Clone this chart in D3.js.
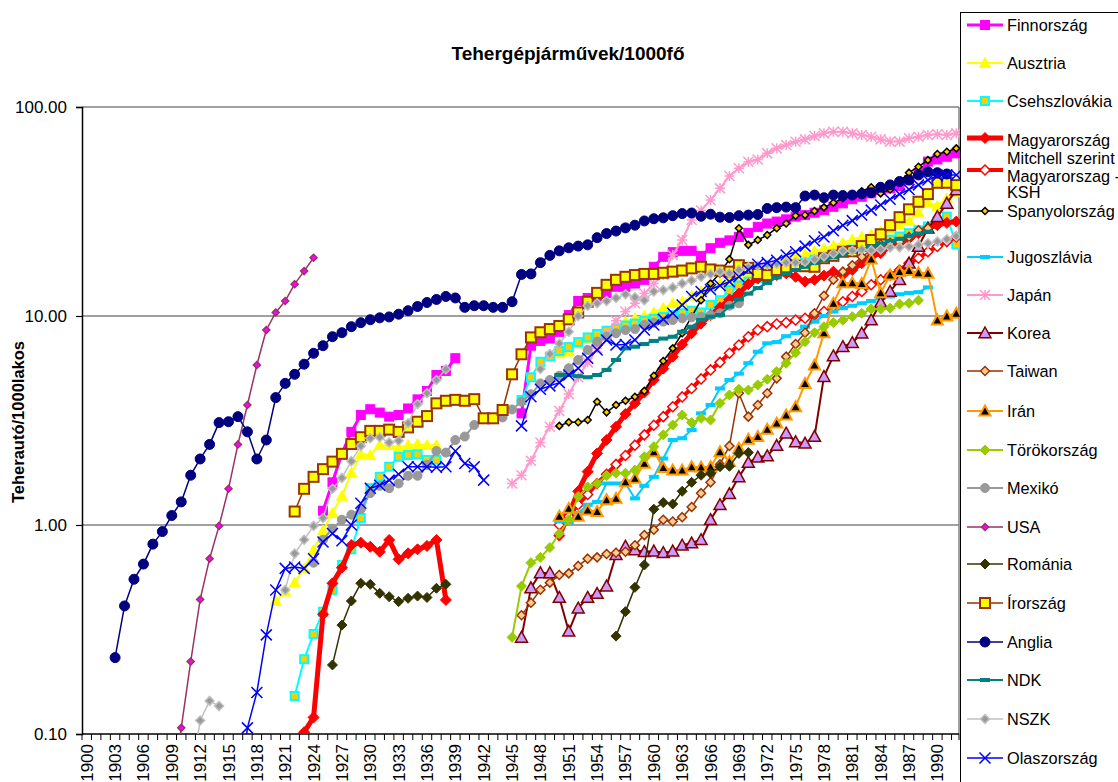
<!DOCTYPE html>
<html>
<head>
<meta charset="utf-8">
<script src="https://cdn.jsdelivr.net/npm/d3@7"></script>
<style>
  body { margin: 0; background: #fff; }
  svg { font-family: "Liberation Sans", Arial, sans-serif; }
  .tick text { font-size: 17px; fill: #000; }
</style>
</head>
<body>
<div class="chart"></div>
<script>
// categories
const years = d3.range(1900, 1993);
const yearLabels = d3.range(1900, 1991, 3);
const yTicks = [0.1, 1, 10, 100];

// series: first year + values (null = no data)
const finnorszag = { from: 1925, v: [1.17, 1.6, 2.2, 2.79, 3.36, 3.58, 3.45, 3.3, 3.36, 3.61, 3.99, 4.38, 5.22, 5.46, 6.28,
  null, null, null, null, null, null, 3.42, 7.21, 7.6, 7.8, 8.4, 10.1, 11.8, 12.2, 12.4, 12.9, 13.8, 13.8, 14.3, 14.9,
  17.2, 19.2, 20.2, 20.5, 20.5, 19.4, 21.1, 22.4, 23.0, 23.9, 25.0, 26.7, 27.7, 28.3, 29.0, 29.9, 30.4, 31.2, 32.1, 33.3,
  34.6, 36.2, 37.2, 38.6, 40.1, 40.8, 41.9, 44.7, 48.2, 54.8, 56.1, 57.8, 60.0] };
const ausztria = { from: 1920, v: [0.433, 0.48, 0.53, 0.62, 0.76, 0.94, 1.14, 1.38, 1.78, 2.18, 2.16, 2.41, 2.41, 2.35, 2.41, 2.44, 2.41, 2.41,
  null, null, null, null, null, null, null, null, null, null, 5.83, 6.44, 6.63, 6.75, 7.39, 7.82, 8.02, 8.5, 9.05, 9.4, 9.75,
  10.0, 10.4, 10.9, 11.5, 11.7, 12.5, 13.1, 13.8, 14.3, 14.9, 15.4, 15.9, 16.4, 17.1, 17.8, 18.5, 19.1, 19.8, 20.4, 21.0,
  21.7, 22.4, 23.2, 23.9, 24.5, 25.3, 26.1, 27.4, 28.6, 31.3, 35.0, 33.6, 36.5, 39.0] };
const csehszlovakia = { from: 1922, v: [0.152, 0.228, 0.301, 0.385, 0.489, 0.644, 0.765, 1.08, 1.5, 1.7, 1.9, 2.12, 2.16, 2.18, 2.05, 2.05,
  null, null, null, null, null, null, null, null, 3.96, 5.09, 6.04, 6.4, 6.8, 7.1, 7.5, 7.9, 8.2, 8.5, 8.7, 9.0, 9.2, 9.5,
  9.7, 9.9, 10.1, 10.3, 10.6, 10.4, 11.3, 11.9, 13.3, 14.0, 14.6, 15.2, 15.8, 16.3, 16.9, 17.4, 18.0, 18.6, 19.2, 19.7,
  20.3, 20.8, 21.4, 22.0, 22.5, 23.2, 24.0, 24.9, 25.7, 26.8, 28.3, 29.9, 22.0] };
const magyarMitchell = { from: 1922, v: [0.06, 0.102, 0.12, 0.374, 0.526, 0.625, 0.802, 0.823, 0.787, 0.745, 0.848, 0.685, 0.732, 0.765,
  0.794, 0.848, 0.438, null, null, null, null, null, null, null, null, null, null, null, 0.89, 1.12, 1.45, 1.8, 2.2, 2.55,
  2.95, 3.4, 3.82, 4.3, 4.94, 5.6, 6.39, 7.3, 8.27, 9.2, 10.1, 11.0, 12.0, 12.8, 14.2, 15.1, 15.4, 15.7, 16.0, 15.4, 14.6,
  14.9, 15.6, 16.3, 15.7, 16.6, 17.9, 19.2, 20.0, 21.5, 22.3, 23.5, 24.9, 26.3, 27.2, 27.9, 28.3] };
const magyarKSH = { from: 1950, v: [1.0, 1.1, 1.25, 1.4, 1.58, 1.75, 1.95, 2.15, 2.41, 2.7, 3.0, 3.3, 3.68, 4.1, 4.5, 5.0, 5.52, 6.0,
  6.63, 7.26, 7.96, 8.57, 8.89, 9.16, 9.3, 9.57, 9.75, 10.1, 10.5, 11.1, 11.7, 12.4, 13.1, 14.1, 14.9, 15.7, 16.6, 17.9,
  18.9, 20.3, 21.5, 22.7, 23.9] };
const spanyolorszag = { from: 1950, v: [2.98, 3.1, 3.1, 3.18, 3.89, 3.46, 3.75, 3.93, 4.11, 4.38, 5.18, 6.09, 7.0, 8.27, 9.93, 11.9,
  14.3, 16.0, 18.7, 26.3, 21.9, 23.1, 24.4, 26.3, 27.7, 30.2, 30.4, 31.8, 33.1, 34.8, 36.6, 38.0, 39.5, 41.3, 38.6, 40.3,
  44.0, 48.5, 51.8, 55.7, 59.6, 61.1, 63.4] };
const jugoszlavia = { from: 1950, v: [1.04, 1.03, 1.14, 1.25, 1.29, 1.58, 1.58, 1.58, 1.34, 1.54, 1.7, 2.08, 2.55, 2.6, 2.85, 3.42,
  3.75, 4.5, 4.94, 5.3, 5.94, 6.75, 7.4, 7.5, 8.0, 8.3, 8.9, 9.4, 10.0, 10.5, 10.9, 11.2, 11.5, 11.8, 12.2, 12.4, 12.7,
  12.9, 13.0, 13.7] };
const japan = { from: 1945, v: [1.58, 1.73, 2.03, 2.48, 2.95, 3.51, 4.23, 5.09, 6.0, 7.0, 8.2, 9.5, 10.5, 11.5, 12.8, 14.3, 15.7,
  19.6, 23.1, 28.8, 32.0, 35.9, 40.8, 46.8, 50.9, 54.7, 56.1, 60.0, 63.4, 65.8, 68.2, 70.0, 72.6, 74.8, 76.2, 76.2, 74.8,
  73.5, 72.1, 70.0, 68.3, 68.3, 70.8, 72.1, 73.5, 74.0, 73.5, 74.8] };
const korea = { from: 1946, v: [0.29, 0.5, 0.59, 0.59, 0.45, 0.31, 0.40, 0.45, 0.47, 0.51, 0.72, 0.79, 0.76, 0.745, 0.75, 0.737,
  0.75, 0.8, 0.82, 0.85, 1.06, 1.25, 1.41, 1.7, 1.99, 2.11, 2.14, 2.4, 2.75, 2.5, 2.46, 2.65, 5.13, 6.44, 7.13, 7.45, 8.27,
  9.57, 11.6, 13.1, 14.9, 17.9, 21.5, 26.3, 29.9, 34.6, 40.1] };
const taiwan = { from: 1946, v: [0.37, 0.425, 0.49, 0.53, 0.577, 0.587, 0.637, 0.69, 0.7, 0.726, 0.737, 0.745, 0.8, 0.895, 0.95,
  1.06, 1.04, 1.09, 1.22, 1.42, 1.6, 1.95, 2.39, 4.27, 3.3, 3.75, 4.27, 5.03, 6.39, 7.34, 8.32, 10.3, 12.5, 14.9, 16.3,
  17.5, 19.2, 20.6, 22.0, 22.4, 22.6, 23.9, 25.7, 26.3] };
const iran = { from: 1950, v: [1.1, 1.2, 1.1, 1.18, 1.16, 1.32, 1.34, 1.61, 1.67, 1.97, 2.24, 1.88, 1.83, 1.83, 1.9, 1.89, 1.9,
  2.24, 2.01, 2.33, 2.57, 2.65, 2.87, 3.07, 3.36, 3.68, 4.75, 5.83, 8.3, 11.5, 14.4, 14.4, 14.3, 18.7, 12.9, 15.7, 16.3,
  16.5, 16.1, 16.0, 9.55, 10.0, 10.3] };
const torokorszag = { from: 1945, v: [0.29, 0.51, 0.66, 0.70, 0.78, 0.91, 1.06, 1.37, 1.52, 1.58, 1.72, 1.77, 1.77, 1.83, 2.12,
  2.37, 2.7, 3.01, 3.36, 3.09, 3.24, 3.18, 3.82, 4.19, 4.46, 4.42, 4.68, 4.98, 5.42, 5.94, 6.67, 7.54, 8.32, 8.89, 9.29,
  9.55, 9.93, 10.3, 10.8, 10.8, 10.9, 11.4, 11.5, 11.9] };
const mexiko = { from: 1924, v: [0.66, 0.85, 0.96, 1.06, 1.12, 1.19, 1.42, 1.54, 1.5, 1.58, 1.72, 1.72, 1.94, 2.26, 2.22, 2.55,
  2.65, 3.01, 3.24, 3.24, 3.27, 3.57, 3.89, 4.22, 4.76, 4.94, 5.18, 5.62, 6.16, 6.88, 7.54, 7.96, 8.27, 8.57, 8.66, 9.05,
  9.29, 9.4, 9.57, 9.75, 9.85, 9.93, 10.1, 10.3, 11.2, 11.5] };
const usa = { from: 1909, v: [0.05, 0.107, 0.222, 0.44, 0.69, 0.99, 1.49, 2.43, 3.75, 5.83, 8.57, 10.4, 11.8, 14.2, 16.4, 19.0] };
const romania = { from: 1926, v: [0.214, 0.332, 0.433, 0.526, 0.52, 0.471, 0.454, 0.43, 0.446, 0.457, 0.45, 0.498, 0.52,
  null, null, null, null, null, null, null, null, null, null, null, null, null, null, null, null, null,
  0.294, 0.385, 0.503, 0.644, 1.19, 1.28, 1.26, 1.45, 1.6, 1.73, 1.77, 1.9, 1.91, 2.2, 2.22] };
const irorszag = { from: 1922, v: [1.16, 1.49, 1.7, 1.85, 2.01, 2.19, 2.44, 2.63, 2.82, 2.82, 2.86, 2.79, 2.93, 3.12, 3.32, 3.82,
  3.93, 3.97, 3.93, 4.0, 3.24, 3.24, 3.55, 5.26, 6.56, 7.9, 8.36, 8.66, 8.96, 9.64, 10.4, 11.7, 12.9, 14.1, 14.9, 15.4,
  15.7, 15.9, 15.9, 16.1, 16.3, 16.5, 16.9, 17.2, 16.7, 16.5, 16.3, 17.5, 17.0, 15.9, 15.7, 16.6, 16.8, 17.4, 17.3, 17.2,
  18.9, 19.4, 20.3, 20.4, 21.6, 23.1, 24.6, 27.2, 29.7, 32.4, 35.2, 38.3, 43.4, 43.4, 42.3] };
const anglia = { from: 1903, v: [0.232, 0.41, 0.55, 0.65, 0.81, 0.93, 1.11, 1.29, 1.73, 2.07, 2.43, 3.09, 3.12, 3.3, 2.79, 2.07,
  2.55, 4.07, 4.76, 5.26, 5.88, 6.63, 7.21, 7.96, 8.32, 8.89, 9.29, 9.6, 9.8, 9.9, 10.2, 10.6, 11.1, 11.6, 12.0, 12.4,
  12.2, 11.0, 11.2, 11.2, 11.0, 11.0, 11.7, 15.8, 15.9, 18.0, 19.5, 20.5, 21.2, 21.6, 21.9, 23.7, 24.8, 25.5, 26.4, 27.2,
  28.5, 29.2, 29.5, 30.2, 30.9, 31.1, 30.0, 30.7, 29.7, 29.6, 30.2, 30.4, 30.6, 32.7, 33.0, 33.2, 33.0, 37.5, 37.9, 36.8,
  37.9, 37.7, 37.9, 38.4, 38.9, 41.3, 42.4, 44.0, 44.7, 47.3, 49.0, 48.5, 47.8] };
const ndk = { from: 1950, v: [5.22, 5.22, 5.15, 5.09, 5.22, 5.52, 6.16, 7.0, 7.13, 7.34, 7.6, 7.8, 7.96, 8.41, 8.89, 9.57, 9.93,
  10.1, 11.1, 12.0, 12.8, 13.6, 14.4, 15.3, 16.0, 16.6, 17.2, 17.9, 18.5, 19.1, 19.7, 20.3, 20.9, 21.5, 22.1, 22.8, 23.4,
  24.1, 24.8, 25.3] };
const nszk = { from: 1911, v: [0.06, 0.116, 0.144, 0.136, null, null, null, null, null, null, 0.489, 0.73, 0.85, 0.99, 1.08,
  1.49, 1.68, 2.02, 2.39, 2.6, 2.63, 2.48, 2.53, 3.07, 3.79, 4.27, 4.94, 5.56, null, null, null, null, null, null, null,
  null, null, 5.58, 6.58, 7.39, 8.41, 10.0, 11.2, 11.5, 11.8, 12.2, 12.7, 12.3, 11.9, 13.1, 13.3, 13.7, 14.3, 14.8, 15.4,
  15.9, 16.3, 16.0, 16.6, 17.1, 17.4, 17.6, 17.8, 18.0, 18.0, 18.2, 18.7, 19.3, 19.9, 20.5, 20.5, 20.8, 20.6, 20.8, 21.3,
  21.3, 21.5, 21.9, 22.3, 22.7, 23.3, 24.1] };
const olaszorszag = { from: 1916, v: [0.04, 0.107, 0.158, 0.298, 0.489, 0.62, 0.63, 0.62, 0.69, 0.83, 0.91, 0.84, 1.0, 1.27, 1.5,
  1.55, 1.64, 1.75, 1.9, 1.9, 1.9, 1.89, 1.9, 2.26, 1.97, 1.9, 1.64, null, null, null, 2.98, 4.11, 4.46, 4.63, 4.8, 5.22,
  5.62, 6.28, 6.88, 7.67, 7.26, 7.3, 7.67, 8.57, 9.05, 9.64, 10.3, 11.3, 12.4, 13.1, 13.4, 14.0, 14.6, 15.4, 16.6, 17.7,
  18.0, 18.5, 19.6, 20.3, 21.6, 22.9, 23.9, 25.6, 27.2, 28.6, 30.4, 32.1, 34.0, 36.2, 38.3, 40.3, 42.4, 44.7, 46.8, 47.3, 47.3] };

// styles, in legend / drawing order (ly = legend line y, ty = text baselines)
const series = [
  { name: ["Finnország"], d: finnorszag, line: "#FF00FF", lw: 3, mk: "square", size: 9, fill: "#FF00FF", stroke: "#FF00FF", sw: 1, ly: 25 },
  { name: ["Ausztria"], d: ausztria, line: "#FFFF00", lw: 2, mk: "triangle", size: 11, fill: "#FFFF00", stroke: "#FFFF00", sw: 1, ly: 63 },
  { name: ["Csehszlovákia"], d: csehszlovakia, line: "#00FFFF", lw: 2, mk: "square", size: 8, fill: "#FFCC00", stroke: "#00FFFF", sw: 2, ly: 101 },
  { name: ["Magyarország", "Mitchell szerint"], d: magyarMitchell, line: "#FF0000", lw: 5, mk: "diamond", size: 11, fill: "#FF0000", stroke: "#FF0000", sw: 1, ly: 138, ty: [145.5, 163.5] },
  { name: ["Magyarorszag -", "KSH"], d: magyarKSH, line: "#FF0000", lw: 4, mk: "diamond", size: 10, fill: "#FFFFFF", stroke: "#FF0000", sw: 1.5, ly: 170, ty: [181.5, 198] },
  { name: ["Spanyolország"], d: spanyolorszag, line: "#000000", lw: 1.5, mk: "diamond", size: 7, fill: "#FFCC00", stroke: "#000000", sw: 1.5, ly: 211 },
  { name: ["Jugoszlávia"], d: jugoszlavia, line: "#00CCFF", lw: 2, mk: "dash", size: 9, fill: "#00CCFF", stroke: "#00CCFF", sw: 1, ly: 257 },
  { name: ["Japán"], d: japan, line: "#FF99CC", lw: 2, mk: "star", size: 10, fill: "none", stroke: "#FF99CC", sw: 1.5, ly: 295 },
  { name: ["Korea"], d: korea, line: "#800000", lw: 2, mk: "triangle", size: 12, fill: "#CC99FF", stroke: "#800000", sw: 1.5, ly: 333 },
  { name: ["Taiwan"], d: taiwan, line: "#993300", lw: 1.5, mk: "diamond", size: 9, fill: "#FFCC99", stroke: "#993300", sw: 1.5, ly: 371 },
  { name: ["Irán"], d: iran, line: "#FF9900", lw: 2, mk: "triangle", size: 11, fill: "#000000", stroke: "#FF9900", sw: 2, ly: 411 },
  { name: ["Törökország"], d: torokorszag, line: "#99CC00", lw: 2, mk: "diamond", size: 10, fill: "#99CC00", stroke: "#99CC00", sw: 1, ly: 450 },
  { name: ["Mexikó"], d: mexiko, line: "#999999", lw: 2, mk: "circle", size: 9, fill: "#999999", stroke: "#999999", sw: 1, ly: 488 },
  { name: ["USA"], d: usa, line: "#993366", lw: 1.5, mk: "diamond", size: 7, fill: "#FF00FF", stroke: "#993366", sw: 1.5, ly: 527 },
  { name: ["Románia"], d: romania, line: "#333300", lw: 1.5, mk: "diamond", size: 10, fill: "#333300", stroke: "#333300", sw: 1, ly: 564 },
  { name: ["Írország"], d: irorszag, line: "#993300", lw: 1.5, mk: "square", size: 10, fill: "#FFFF00", stroke: "#993300", sw: 2, ly: 603 },
  { name: ["Anglia"], d: anglia, line: "#000080", lw: 1.5, mk: "circle", size: 10, fill: "#000080", stroke: "#000080", sw: 1, ly: 642 },
  { name: ["NDK"], d: ndk, line: "#008080", lw: 2, mk: "dash", size: 9, fill: "#008080", stroke: "#008080", sw: 1, ly: 680 },
  { name: ["NSZK"], d: nszk, line: "#C0C0C0", lw: 1.5, mk: "diamond", size: 9, fill: "#999999", stroke: "#C0C0C0", sw: 1.5, ly: 719 },
  { name: ["Olaszország"], d: olaszorszag, line: "#0000FF", lw: 1.5, mk: "x", size: 11, fill: "none", stroke: "#0000FF", sw: 1.5, ly: 758 }
];

const W = 1118, H = 782;
const plotLeft = 82, plotRight = 961, plotTop = 107, plotBottom = 734;

let svg = d3.select('div.chart').append('svg').attr('width', W).attr('height', H);

//Scale
let x = d3.scaleBand().domain(years).range([plotLeft, plotRight]);
let cx = yr => x(yr) + x.bandwidth() / 2;
let y = d3.scaleLog().domain([0.1, 100]).range([plotBottom, plotTop]);

//gridlines
svg.append('g')
  .selectAll('line')
  .data([1, 10, 100])
  .enter()
  .append('line')
  .attr('x1', plotLeft).attr('x2', plotRight - 2)
  .attr('y1', d => y(d)).attr('y2', d => y(d))
  .attr('stroke', '#808080').attr('stroke-width', 1.5);

// right plot border
svg.append('line')
  .attr('x1', plotRight - 2).attr('x2', plotRight - 2).attr('y1', plotTop).attr('y2', plotBottom)
  .attr('stroke', '#808080').attr('stroke-width', 1.5);

//Axis_y
let yAxis = svg.append('g')
  .attr('transform', `translate(${plotLeft},0)`)
  .call(d3.axisLeft(y).tickValues(yTicks).tickFormat(d3.format('.2f')).tickSize(6).tickPadding(9));
yAxis.select('.domain').attr('stroke', '#000').attr('stroke-width', 1.5);
yAxis.selectAll('.tick line').attr('stroke', '#000').attr('stroke-width', 1.2);

//Axis_x
let xAxis = svg.append('g');
xAxis.append('line')
  .attr('x1', plotLeft).attr('x2', plotRight - 2).attr('y1', plotBottom).attr('y2', plotBottom)
  .attr('stroke', '#000').attr('stroke-width', 1.5);
xAxis.selectAll('line.tk')
  .data(years.concat([null]))
  .enter()
  .append('line')
  .attr('class', 'tk')
  .attr('x1', d => d == null ? plotRight - 2 : x(d))
  .attr('x2', d => d == null ? plotRight - 2 : x(d))
  .attr('y1', plotBottom).attr('y2', plotBottom + 6)
  .attr('stroke', '#000').attr('stroke-width', 1);
xAxis.selectAll('text')
  .data(yearLabels)
  .enter()
  .append('text')
  .attr('transform', d => `translate(${cx(d) + 6},${plotBottom + 10}) rotate(-90)`)
  .attr('text-anchor', 'end')
  .attr('font-size', 17)
  .text(d => d);

//titles
svg.append('text')
  .attr('x', 568).attr('y', 60)
  .attr('text-anchor', 'middle')
  .attr('font-size', 19).attr('font-weight', 'bold')
  .text('Tehergépjárművek/1000fő');

svg.append('text')
  .attr('transform', 'translate(24,422) rotate(-90)')
  .attr('text-anchor', 'middle')
  .attr('font-size', 16.5).attr('font-weight', 'bold')
  .text('Teherautó/1000lakos');

//clip
svg.append('clipPath').attr('id', 'plot')
  .append('rect').attr('x', plotLeft).attr('y', plotTop - 10).attr('width', plotRight - plotLeft).attr('height', plotBottom - plotTop + 10);

// marker shapes
function marker(g, s, px, py) {
  let h = s.size / 2, m;
  if (s.mk === 'square') {
    m = g.append('rect').attr('x', px - h).attr('y', py - h).attr('width', s.size).attr('height', s.size);
  } else if (s.mk === 'circle') {
    m = g.append('circle').attr('cx', px).attr('cy', py).attr('r', h);
  } else if (s.mk === 'triangle') {
    m = g.append('path').attr('d', `M${px},${py - h}L${px + h},${py + h * 0.8}L${px - h},${py + h * 0.8}Z`);
  } else if (s.mk === 'diamond') {
    m = g.append('path').attr('d', `M${px},${py - h}L${px + h},${py}L${px},${py + h}L${px - h},${py}Z`);
  } else if (s.mk === 'dash') {
    m = g.append('rect').attr('x', px - h).attr('y', py - 1.5).attr('width', s.size).attr('height', 3);
  } else if (s.mk === 'x') {
    m = g.append('path').attr('d', `M${px - h},${py - h}L${px + h},${py + h}M${px - h},${py + h}L${px + h},${py - h}`);
  } else {
    m = g.append('path').attr('d', `M${px - h},${py - h}L${px + h},${py + h}M${px - h},${py + h}L${px + h},${py - h}M${px},${py - h}L${px},${py + h}M${px - h},${py}L${px + h},${py}`);
  }
  m.attr('fill', s.fill).attr('stroke', s.stroke).attr('stroke-width', s.sw);
}

let plot = svg.append('g').attr('clip-path', 'url(#plot)');

let line = d3.line()
  .defined(d => d.value != null)
  .x(d => cx(d.year))
  .y(d => y(d.value));

series.forEach(s => {
  let pts = s.d.v.map((v, i) => ({ year: s.d.from + i, value: v }));
  let g = plot.append('g');
  g.append('path')
    .datum(pts)
    .attr('d', line)
    .attr('fill', 'none')
    .attr('stroke', s.line)
    .attr('stroke-width', s.lw)
    .attr('stroke-linejoin', 'round');
  pts.filter(d => d.value != null).forEach(d => marker(g, s, cx(d.year), y(d.value)));
});

//legend
let legend = svg.append('g');
legend.append('rect')
  .attr('x', 960.5).attr('y', 12.5).attr('width', 200).attr('height', 800)
  .attr('fill', '#fff').attr('stroke', '#000').attr('stroke-width', 1);

series.forEach(s => {
  let g = legend.append('g');
  g.append('line')
    .attr('x1', 967).attr('x2', 1003).attr('y1', s.ly).attr('y2', s.ly)
    .attr('stroke', s.line).attr('stroke-width', s.lw);
  marker(g, s, 985, s.ly);
  let ty = s.ty || [s.ly + 6];
  s.name.forEach((t, i) => {
    g.append('text')
      .attr('x', 1007).attr('y', ty[i])
      .attr('font-size', 16.3)
      .text(t);
  });
});
</script>
</body>
</html>
